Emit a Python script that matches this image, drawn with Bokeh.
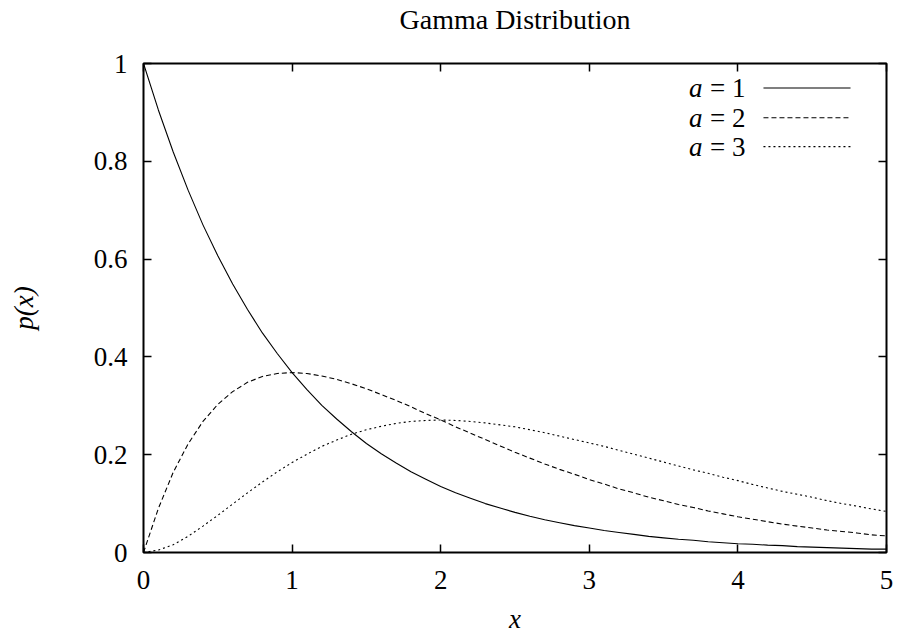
from bokeh.plotting import figure
from bokeh.models import LinearAxis, Range1d, FixedTicker
from bokeh.core.properties import value
from bokeh.embed import file_html
from bokeh.resources import INLINE

# ---- data ----
x_vals = [0.0, 0.1, 0.2, 0.3, 0.4, 0.5, 0.6, 0.7, 0.8, 0.9,
          1.0, 1.1, 1.2, 1.3, 1.4, 1.5, 1.6, 1.7, 1.8, 1.9,
          2.0, 2.1, 2.2, 2.3, 2.4, 2.5, 2.6, 2.7, 2.8, 2.9,
          3.0, 3.1, 3.2, 3.3, 3.4, 3.5, 3.6, 3.7, 3.8, 3.9,
          4.0, 4.1, 4.2, 4.3, 4.4, 4.5, 4.6, 4.7, 4.8, 4.9, 5.0]
p_a1 = [1.000, 0.905, 0.819, 0.741, 0.670, 0.607, 0.549, 0.497, 0.449, 0.407,
        0.368, 0.333, 0.301, 0.273, 0.247, 0.223, 0.202, 0.183, 0.165, 0.150,
        0.135, 0.122, 0.111, 0.100, 0.091, 0.082, 0.074, 0.067, 0.061, 0.055,
        0.050, 0.045, 0.041, 0.037, 0.033, 0.030, 0.027, 0.025, 0.022, 0.020,
        0.018, 0.017, 0.015, 0.014, 0.012, 0.011, 0.010, 0.009, 0.008, 0.007, 0.007]
p_a2 = [0.000, 0.090, 0.164, 0.222, 0.268, 0.303, 0.329, 0.348, 0.360, 0.366,
        0.368, 0.366, 0.361, 0.354, 0.345, 0.335, 0.323, 0.311, 0.298, 0.284,
        0.271, 0.257, 0.244, 0.231, 0.218, 0.205, 0.193, 0.181, 0.170, 0.160,
        0.149, 0.140, 0.130, 0.122, 0.113, 0.106, 0.098, 0.092, 0.085, 0.079,
        0.073, 0.068, 0.063, 0.058, 0.054, 0.050, 0.046, 0.043, 0.040, 0.036, 0.034]
p_a3 = [0.000, 0.005, 0.016, 0.033, 0.054, 0.076, 0.099, 0.122, 0.144, 0.165,
        0.184, 0.201, 0.217, 0.230, 0.242, 0.251, 0.258, 0.264, 0.268, 0.270,
        0.271, 0.270, 0.268, 0.265, 0.261, 0.257, 0.251, 0.245, 0.238, 0.231,
        0.224, 0.217, 0.209, 0.201, 0.193, 0.185, 0.177, 0.169, 0.162, 0.154,
        0.147, 0.139, 0.132, 0.125, 0.119, 0.113, 0.106, 0.100, 0.095, 0.089, 0.084]
series_values = [p_a1, p_a2, p_a3]
series_names = ["1", "2", "3"]
x_ticks = [0, 1, 2, 3, 4, 5]
y_ticks = [0, 0.2, 0.4, 0.6, 0.8, 1]
y_tick_labels = ["0", "0.2", "0.4", "0.6", "0.8", "1"]
title_text = "Gamma Distribution"

# ---- styles / layout ----
FONT = "Liberation Serif"
FS = "27px"
dashes = ["solid", "5 3", "2 3"]

p = figure(width=900, height=639, x_range=Range1d(0, 5), y_range=Range1d(0, 1),
           output_backend="svg", toolbar_location=None,
           min_border_left=143, min_border_right=14, min_border_top=63, min_border_bottom=87)
p.background_fill_color = "white"
p.border_fill_color = "white"
p.outline_line_color = "black"
p.outline_line_width = 2
p.grid.visible = False

top_ax = LinearAxis()
right_ax = LinearAxis()
p.add_layout(top_ax, "above")
p.add_layout(right_ax, "right")

for ax in p.axis:
    ax.axis_line_color = None
    ax.major_tick_in = 8
    ax.major_tick_out = 0
    ax.minor_tick_in = 0
    ax.minor_tick_out = 0
    ax.major_tick_line_width = 1.5
    ax.major_tick_line_color = "black"
    ax.major_label_text_font = FONT
    ax.major_label_text_font_size = FS
    ax.major_label_text_color = "black"
    ax.axis_label_text_font = FONT
    ax.axis_label_text_font_size = FS
    ax.axis_label_text_font_style = "italic"
    ax.axis_label_text_color = "black"

for ax in p.xaxis:
    ax.ticker = FixedTicker(ticks=x_ticks)
for ax in p.yaxis:
    ax.ticker = FixedTicker(ticks=y_ticks)
for ax in p.left:
    ax.major_label_overrides = {t: s for t, s in zip(y_ticks, y_tick_labels)}

# mirrored tick marks only, no labels; the top one carries the chart title
top_ax.major_label_overrides = {t: "" for t in x_ticks}
right_ax.major_label_overrides = {t: "" for t in y_ticks}
top_ax.major_label_standoff = 0
right_ax.major_label_standoff = 0
top_ax.axis_label = title_text
top_ax.axis_label_text_font_style = "normal"
top_ax.axis_label_text_font_size = "28px"
top_ax.axis_label_standoff = 29

bx = p.below[0]
bx.axis_label = "x"
bx.major_label_standoff = 18
bx.axis_label_standoff = 12
ly = p.left[0]
ly.axis_label = "p(x)"
ly.major_label_standoff = 16
ly.major_label_orientation = "horizontal"
ly.axis_label_standoff = 52

for vals, dash in zip(series_values, dashes):
    p.line(x_vals, vals, line_color="black", line_width=1.1, line_dash=dash)

# ---- legend (text left, sample right, like the reference) ----
LEG_TX = 4.051
LEG_LX0, LEG_LX1 = 4.172, 4.758
LEG_ROWS = [0.950, 0.889, 0.830]
p.text(x=[LEG_TX] * 3, y=LEG_ROWS, text=["= " + s for s in series_names],
       text_font=value(FONT), text_font_size=FS, text_align="right",
       text_baseline="middle", text_color="black")
p.text(x=[LEG_TX] * 3, y=LEG_ROWS, text=["a"] * 3, x_offset=-43,
       text_font=value(FONT), text_font_size=FS, text_font_style="italic",
       text_align="right", text_baseline="middle", text_color="black")
for ry, dash in zip(LEG_ROWS, dashes):
    p.line([LEG_LX0, LEG_LX1], [ry, ry], line_color="black", line_width=1.1, line_dash=dash)

open("out.html", "w").write(file_html(p, INLINE))
